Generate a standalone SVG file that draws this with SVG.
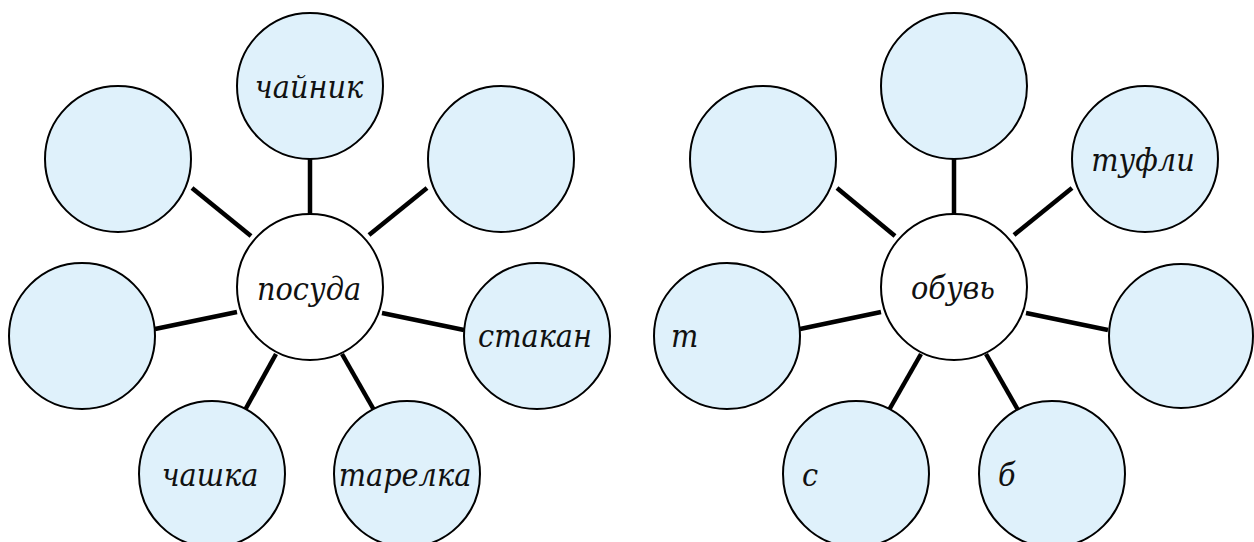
<svg xmlns="http://www.w3.org/2000/svg" width="1254" height="542" viewBox="0 0 1254 542">
<style>
.leaf{fill:#DFF1FB;stroke:#000;stroke-width:2}
.hub{fill:#fff;stroke:#000;stroke-width:2}
.c line{stroke:#000;stroke-width:4.5}
.t{font-family:'DejaVu Serif Condensed','DejaVu Serif',serif;font-stretch:condensed;font-style:italic;font-size:32px;fill:#111}
.m{text-anchor:middle}
</style>
<rect width="1254" height="542" fill="#fff"/>
<g class="c" id="connectors">
<line x1="310" y1="159" x2="310" y2="214"/>
<line x1="192" y1="188" x2="251" y2="236"/>
<line x1="427" y1="188" x2="369" y2="235"/>
<line x1="155" y1="329" x2="237" y2="312"/>
<line x1="382" y1="313" x2="464" y2="330"/>
<line x1="276" y1="354" x2="245" y2="410"/>
<line x1="342" y1="354" x2="374" y2="410"/>
<line x1="954" y1="159" x2="954" y2="214"/>
<line x1="837" y1="188" x2="895" y2="236"/>
<line x1="1072" y1="188" x2="1014" y2="235"/>
<line x1="800" y1="329" x2="881" y2="312"/>
<line x1="1026" y1="313" x2="1108" y2="330"/>
<line x1="921" y1="354" x2="889" y2="410"/>
<line x1="986" y1="354" x2="1018" y2="410"/>
</g>
<g id="posuda"><circle class="hub" cx="310" cy="287" r="73"/><text class="t m" x="309" y="300">посуда</text></g>
<g id="chainik"><circle class="leaf" cx="310" cy="86" r="73"/><text class="t m" x="309" y="98">чайник</text></g>
<g id="l-tl"><circle class="leaf" cx="118" cy="159" r="73"/></g>
<g id="l-tr"><circle class="leaf" cx="501" cy="159" r="73"/></g>
<g id="l-l"><circle class="leaf" cx="82" cy="336" r="73"/></g>
<g id="stakan"><circle class="leaf" cx="537" cy="336" r="73"/><text class="t m" x="535" y="347">стакан</text></g>
<g id="chashka"><circle class="leaf" cx="212" cy="474" r="73"/><text class="t m" x="210" y="486">чашка</text></g>
<g id="tarelka"><circle class="leaf" cx="407" cy="474" r="73"/><text class="t m" x="405" y="486">тарелка</text></g>
<g id="obuv"><circle class="hub" cx="954" cy="287" r="73"/><text class="t m" x="953" y="299">обувь</text></g>
<g id="r-t"><circle class="leaf" cx="954" cy="86" r="73"/></g>
<g id="r-tl"><circle class="leaf" cx="763" cy="159" r="73"/></g>
<g id="tufli"><circle class="leaf" cx="1145" cy="159" r="73"/><text class="t m" x="1143" y="171">туфли</text></g>
<g id="r-t-letter"><circle class="leaf" cx="727" cy="336" r="73"/><text class="t" x="671" y="347">т</text></g>
<g id="r-r"><circle class="leaf" cx="1181" cy="336" r="72"/></g>
<g id="r-s"><circle class="leaf" cx="856" cy="474" r="73"/><text class="t" x="802" y="486">с</text></g>
<g id="r-b"><circle class="leaf" cx="1052" cy="474" r="73"/><text class="t" x="998" y="486">б</text></g>
</svg>
